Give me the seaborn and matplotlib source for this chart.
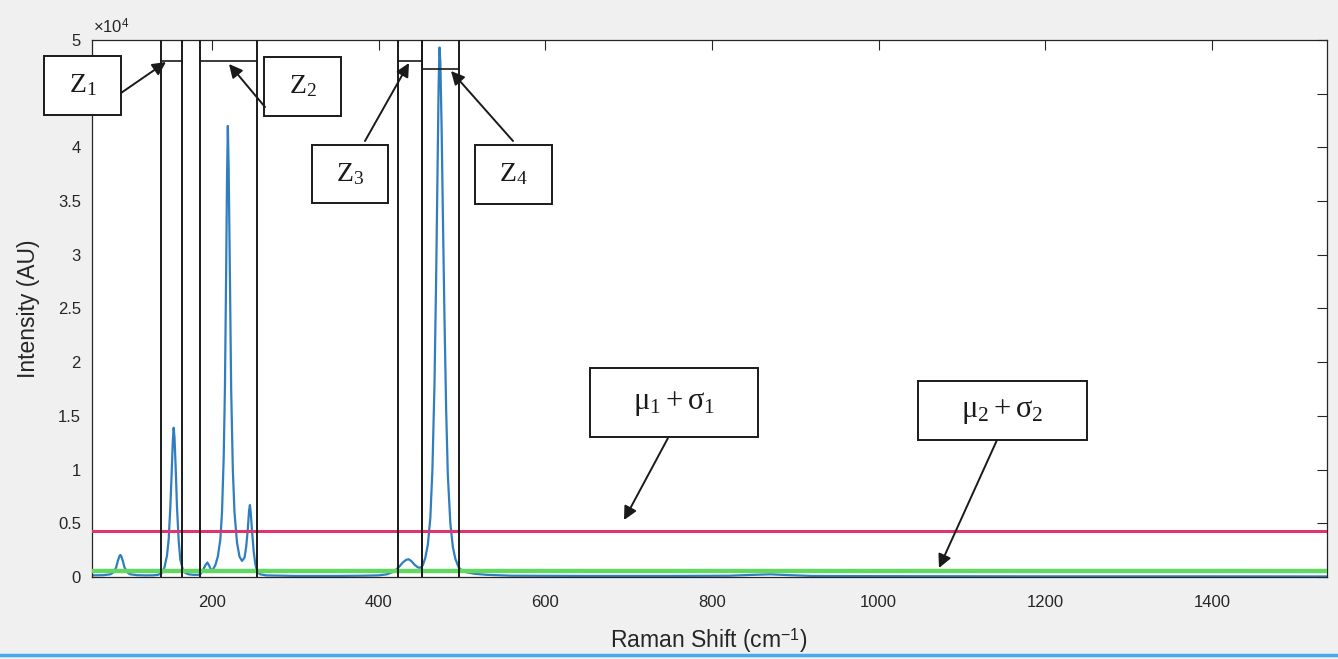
import matplotlib
matplotlib.use("Agg")
import matplotlib.pyplot as plt
import numpy as np
import pandas as pd
import seaborn as sns
from matplotlib.patches import Rectangle, FancyArrowPatch
from matplotlib.lines import Line2D
from matplotlib.ticker import FuncFormatter

# ---------------- data ----------------
raman_shift = [56, 70, 78, 82, 85, 87, 89, 90, 91, 93, 95, 98, 102, 110, 120, 130, 135, 138,
               140, 143, 146, 148, 150, 151.5, 153, 154, 155, 156.5, 158, 160, 162, 165, 168, 172, 178, 183,
               186, 189, 192, 194.5, 197, 199, 201, 204, 207, 210, 212, 214, 215.5, 217, 218, 219, 220,
               221.5, 223, 225, 227, 230, 233, 236, 239, 241, 243, 244.5, 245.5, 246.5, 248, 250, 252,
               254, 258, 265, 300, 350, 380,
               400, 410, 418, 424, 429, 433, 436, 439, 443, 447, 450, 453, 456, 459, 462, 464.5, 467,
               469, 470.5, 472, 473, 474, 475.5, 477, 479, 481, 483, 486, 489, 492, 496, 500, 505, 515,
               530, 560, 650, 750, 820, 850, 870, 890, 920, 1000, 1200, 1400, 1538]
intensity = [150, 170, 250, 450, 900, 1500, 1950, 2050, 1950, 1500, 900, 450, 250, 170, 150, 160, 200, 300,
             400, 900, 2000, 3500, 6500, 9500, 12700, 13900, 13000, 10000, 6500, 3400, 1600, 700, 380, 250, 200, 200,
             250, 600, 1100, 1350, 1000, 600, 700, 1100, 1900, 3500, 6000, 11000, 17500, 28500, 37000, 42000, 38000,
             28000, 17500, 10000, 6000, 3200, 1900, 1500, 1800, 2800, 4500, 6200, 6700, 6000, 4300, 2400, 1200,
             500, 250, 150, 100, 100, 120,
             150, 250, 500, 900, 1350, 1600, 1650, 1500, 1150, 900, 850, 1100, 1800, 3000, 5500, 10000, 18000,
             28000, 37000, 46000, 49300, 48000, 42000, 34000, 24000, 15500, 9500, 5000, 2800, 1700, 900, 600, 450, 300,
             200, 120, 100, 100, 120, 200, 250, 180, 100, 80, 60, 60, 50]

mu1_sigma1 = 4300
mu2_sigma2 = 600

zone_labels = ["$\\mathrm{Z}_1$", "$\\mathrm{Z}_2$", "$\\mathrm{Z}_3$", "$\\mathrm{Z}_4$"]
threshold_labels = ["$\\mathrm{\\mu_1 + \\sigma_1}$", "$\\mathrm{\\mu_2 + \\sigma_2}$"]
zone_left = [139, 186, 423, 452]
zone_right = [164, 254, 452, 497]
zone_top = [48050, 48050, 48050, 47300]

x_ticks = [200, 400, 600, 800, 1000, 1200, 1400]
y_ticks = [0, 5000, 10000, 15000, 20000, 25000, 30000, 35000, 40000, 45000, 50000]
y_tick_labels = ["0", "0.5", "1", "1.5", "2", "2.5", "3", "3.5", "4", "", "5"]  # 4.5 hidden behind Z1 box

# ---------------- style ----------------
sns.set_style("white")
plt.rcParams["font.family"] = ["Liberation Sans", "DejaVu Sans"]
plt.rcParams["mathtext.fontset"] = "custom"
plt.rcParams["mathtext.rm"] = "Liberation Serif"
plt.rcParams["mathtext.it"] = "Liberation Serif:italic"
plt.rcParams["mathtext.sf"] = "Liberation Sans"

W, H = 1338, 659
fig = plt.figure(figsize=(W / 100, H / 100), dpi=100, facecolor="#f0f0f0")
ax = fig.add_axes([92 / W, 1 - 577 / H, (1327 - 92) / W, (577 - 40) / H])
ax.set_facecolor("white")

df = pd.DataFrame({"shift": raman_shift, "intensity": intensity})
sns.lineplot(data=df, x="shift", y="intensity", ax=ax, color="#2f7ebf", lw=1.6, sort=False, zorder=2)

ax.axhline(mu1_sigma1, color="#e0356b", lw=2.2, zorder=3)
ax.axhline(mu2_sigma2, color="#62d862", lw=3.2, zorder=3)

for a, b, t in zip(zone_left, zone_right, zone_top):
    ax.axvline(a, color="#1a1a1a", lw=1.4, zorder=4)
    ax.axvline(b, color="#1a1a1a", lw=1.4, zorder=4)
    ax.plot([a, b], [t, t], color="#1a1a1a", lw=1.2, zorder=4)

ax.set_xlim(56, 1538)
ax.set_ylim(0, 50000)
ax.set_xticks(x_ticks)
ax.set_yticks(y_ticks)
ax.set_yticklabels(y_tick_labels)
ax.tick_params(direction="in", top=True, right=True, length=7, width=0.8,
               labelsize=12, colors="#262626")
ax.tick_params(axis="x", pad=13)
ax.tick_params(axis="y", pad=8)
for s in ax.spines.values():
    s.set_linewidth(0.9)
    s.set_color("#262626")
    s.set_visible(True)

ax.set_xlabel("Raman Shift (cm$^{\\mathsf{-1}}$)", fontsize=16.5, color="#262626")
ax.set_ylabel("Intensity (AU)", fontsize=16.5, color="#262626")
ax.xaxis.set_label_coords((709 - 92) / 1235, -(641 - 577) / 537)
ax.xaxis.label.set_va("center")
ax.yaxis.set_label_coords((28 - 92) / 1235, 0.5)
ax.yaxis.label.set_va("center")
ax.yaxis.label.set_ha("center")

fig.text(93 / W, 1 - 33 / H, "×10$^{\\mathsf{4}}$", fontsize=12, color="#262626", va="baseline", ha="left")

# ---------------- annotation boxes and arrows (figure pixels, y from top) ----------------
def fx(x):
    return x / W

def fy(y):
    return 1 - y / H

boxes = [
    (zone_labels[0], 20, 44, 56, 121, 115, (121, 93), (166, 62)),
    (zone_labels[1], 20, 264, 57, 341, 116, (265, 107), (229, 64)),
    (zone_labels[2], 20, 312, 145, 388, 203, (365, 141), (409, 63)),
    (zone_labels[3], 20, 475, 145, 552, 204, (513, 141), (451, 71)),
    (threshold_labels[0], 22, 590, 368, 758, 437, (668, 438), (624, 520)),
    (threshold_labels[1], 22, 918, 381, 1087, 440, (997, 440), (939, 568)),
]
for label, size, x0, y0, x1, y1, start, tip in boxes:
    fig.add_artist(Rectangle((fx(x0), fy(y1)), fx(x1) - fx(x0), fy(y0) - fy(y1),
                             transform=fig.transFigure, facecolor="white",
                             edgecolor="#1a1a1a", lw=1.4, zorder=10))
    fig.text(fx((x0 + x1) / 2), fy((y0 + y1) / 2), label, fontsize=size,
             ha="center", va="center", color="#1a1a1a", zorder=11)
    fig.add_artist(FancyArrowPatch((fx(start[0]), fy(start[1])), (fx(tip[0]), fy(tip[1])),
                                   transform=fig.transFigure, arrowstyle="-|>",
                                   mutation_scale=20, color="#1a1a1a", lw=1.4,
                                   shrinkA=0, shrinkB=0, zorder=12))

fig.add_artist(Line2D([0, 1], [fy(655), fy(655)], transform=fig.transFigure,
                      color="#4aa8ec", lw=2.5, zorder=1))

fig.savefig("out.png", dpi=100, facecolor=fig.get_facecolor())
